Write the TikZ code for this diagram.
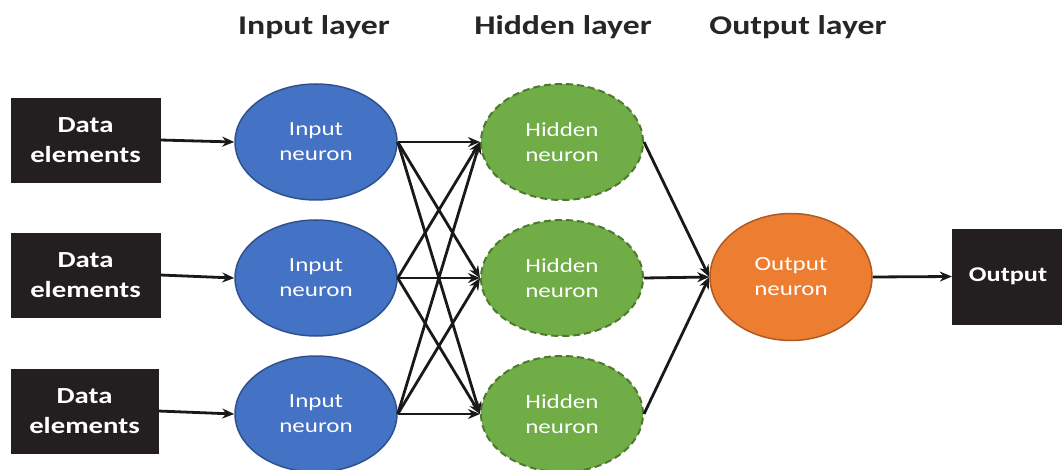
\documentclass[tikz,border=0pt]{standalone}
\usepackage{fontspec}
\newfontfamily\myfont[FakeStretch=1.25]{Carlito}
\usetikzlibrary{arrows.meta,shapes.geometric}
\definecolor{inblue}{HTML}{4472C4}
\definecolor{inblueD}{HTML}{2F528F}
\definecolor{hidgreen}{HTML}{70AD47}
\definecolor{hidgreenD}{HTML}{4E7A30}
\definecolor{outorange}{HTML}{ED7D31}
\definecolor{outorangeD}{HTML}{AE5A21}
\definecolor{boxblack}{HTML}{231F20}
\begin{document}
\begin{tikzpicture}[x=1pt,y=-1pt,
  databox/.style={fill=boxblack,draw=boxblack,minimum width=149pt,minimum height=84pt,inner sep=0pt,
    text=white,align=center,font=\myfont\bfseries\fontsize{23}{30}\selectfont},
  neuron/.style={ellipse,minimum width=162pt,minimum height=116pt,inner sep=0pt,
    text=white,align=center,font=\myfont\fontsize{20}{25}\selectfont},
  inneuron/.style={neuron,fill=inblue,draw=inblueD,line width=1.5pt},
  hidneuron/.style={neuron,fill=hidgreen,draw=hidgreenD,line width=2pt,dash pattern=on 7pt off 4pt},
  outneuron/.style={neuron,fill=outorange,draw=outorangeD,line width=1.5pt,minimum height=127pt},
  layertitle/.style={font=\myfont\bfseries\fontsize{27}{32}\selectfont,text=black!85},
  conn/.style={draw=black!90,line width=2.8pt,-{Stealth[length=12pt,width=10pt]}}
]
\useasboundingbox (0,0) rectangle (1062,470);
\fill[white] (0,0) rectangle (1062,470);

% titles
\node[layertitle] (t1) at (314,27) {Input layer};
\node[layertitle] (t2) at (563,27) {Hidden layer};
\node[layertitle] (t3) at (798,27) {Output layer};

% data boxes
\node[databox] (d1) at (85.5,140) {Data\\elements};
\node[databox] (d2) at (85.5,275) {Data\\elements};
\node[databox,minimum width=147pt] (d3) at (84.5,411) {Data\\elements};

% input neurons
\node[inneuron] (i1) at (316,142) {Input\\neuron};
\node[inneuron] (i2) at (316,278) {Input\\neuron};
\node[inneuron] (i3) at (316,414) {Input\\neuron};

% hidden neurons
\node[hidneuron] (h1) at (562,142) {Hidden\\neuron};
\node[hidneuron] (h2) at (562,278) {Hidden\\neuron};
\node[hidneuron] (h3) at (562,414) {Hidden\\neuron};

% output neuron
\node[outneuron] (o) at (791,277) {Output\\neuron};

% output box
\node[databox,minimum width=112pt,minimum height=95pt,font=\myfont\bfseries\fontsize{21}{26}\selectfont] (ob) at (1008,276.5) {Output};

% connectors
\draw[conn] (d1.east) -- (i1.west);
\draw[conn] (d2.east) -- (i2.west);
\draw[conn] (d3.east) -- (i3.west);
\foreach \a in {1,2,3}{
  \foreach \b in {1,2,3}{
    \draw[conn] (i\a.east) -- (h\b.west);
  }
  \draw[conn] (h\a.east) -- (o.west);
}
\draw[conn] (o.east) -- (ob.west);
\end{tikzpicture}
\end{document}
